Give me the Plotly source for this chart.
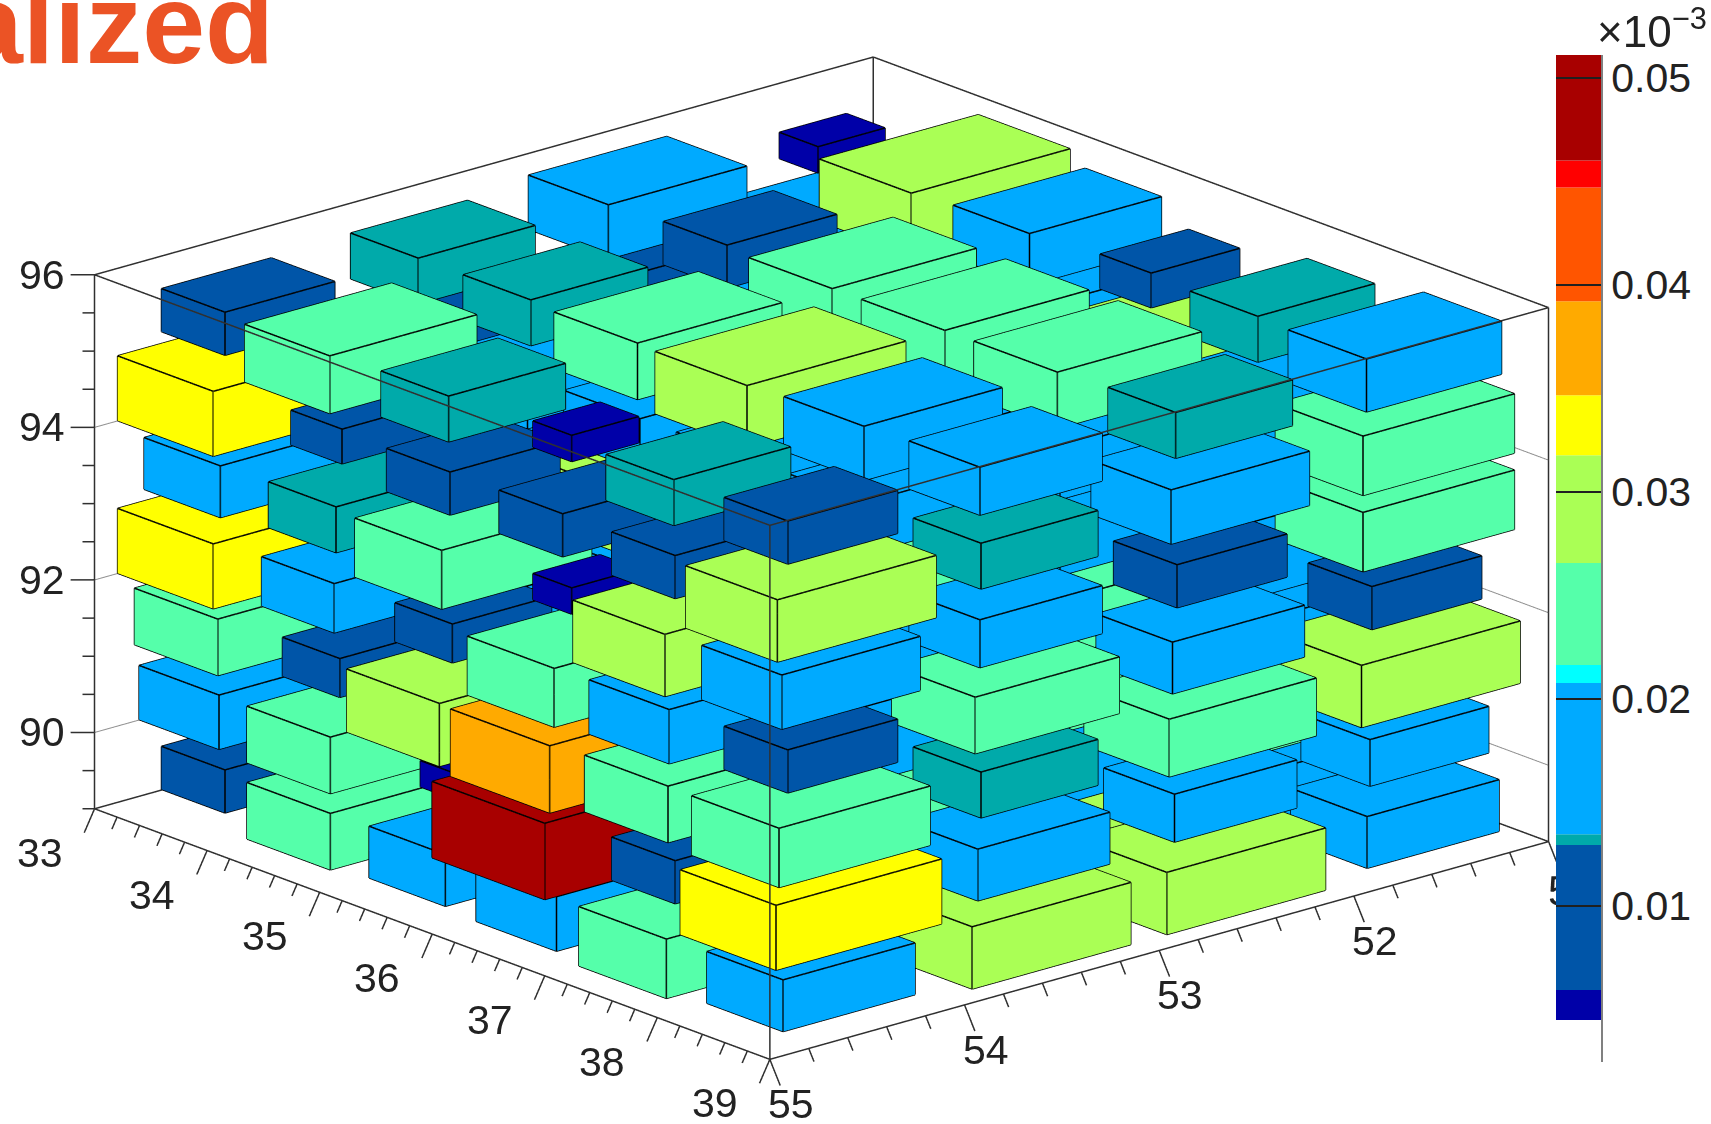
import numpy as np
import plotly.graph_objects as go

# ---------- data (bin contents in units of 1e-3, rows: x bin, columns: y = 54.5, 53.5, 52.5, 51.5) ----------
x_centers = [33.5, 34.5, 35.5, 36.5, 37.5, 38.5]
y_centers = [54.5, 53.5, 52.5, 51.5]
z_centers = [89.5, 90.5, 91.5, 92.5, 93.5, 94.5, 95.5]

z_89_5 = [[9, 17, 24, 18], [24, 18, 18, 24], [18, 24, 18, 18], [20.5, 18, 24, 18], [26.5, 18, 29, 18], [18, 29, 29, 18]]
z_90_5 = [[20, 24, 18, 18], [24, 18, 24, 18], [5, 18, 18, 24], [50, 18, 24, 18], [9, 24, 18, 24], [33, 18, 15, 14]]
z_91_5 = [[24, 18, 24, 18], [8, 18, 18, 24], [30, 18, 18, 24], [37, 24, 18, 18], [24, 18, 24, 18], [26.4, 13.2, 25, 29]]
z_92_5 = [[33, 18, 18, 24], [16, 24, 18, 18], [8, 18, 24, 18], [26, 18, 18, 24], [20, 18, 24, 18], [9, 24, 18, 9]]
z_93_5 = [[18, 18, 24, 18], [13.2, 18, 24, 29], [26, 29, 18, 24], [5, 29, 18, 18], [29, 24, 18, 18], [20, 15, 9, 26.5]]
z_94_5 = [[33, 9, 9, 18], [7, 18, 18, 24], [9, 18, 24, 18], [9, 18, 18, 29], [9, 18, 18, 18], [29, 13.2, 20, 26.5]]
z_95_5 = [[9, 13.2, 20, 5], [25, 13.2, 9, 29], [13.2, 24, 24, 18], [5, 29, 24, 7], [13.2, 20, 24, 13.2], [9, 15, 13.2, 19]]
layers = [z_89_5, z_90_5, z_91_5, z_92_5, z_93_5, z_94_5, z_95_5]

# palette bands of the colour scale (edges in value, colours per band)
band_edges = [0.00447, 0.00592, 0.01292, 0.01345, 0.02075, 0.02162, 0.02655, 0.03176, 0.03466, 0.0392, 0.0447, 0.0460, 0.0511]
band_colors = ["#0000A8", "#0055A8", "#00AAAA", "#00AAFF", "#00FFFF", "#55FFAA", "#AAFF55", "#FFFF00", "#FFAA00", "#FF5500", "#FF0000", "#A80000"]
# box edge length (fraction of a bin) as a function of the bin content
size_value = [5, 9, 13.2, 14, 16, 20, 24, 29, 33, 37, 50]
size_scale = [0.344, 0.564, 0.60, 0.61, 0.645, 0.71, 0.74, 0.815, 0.85, 0.88, 1.0]

x_range = [51, 55]
y_range = [33, 39]
z_range = [89, 96]
x_major = [51, 52, 53, 54, 55]
y_major = [33, 34, 35, 36, 37, 38, 39]
z_major = [90, 92, 94, 96]
cbar_ticks = [0.01, 0.02, 0.03, 0.04, 0.05]

# ---------- geometry ----------
W, H = 1711, 1124
TRI_I = [0, 0, 4, 4, 0, 0, 2, 2, 0, 0, 1, 1]
TRI_J = [1, 2, 5, 6, 1, 5, 3, 7, 2, 6, 3, 7]
TRI_K = [2, 3, 6, 7, 5, 4, 7, 6, 6, 4, 7, 5]
EDGES = [(0, 1), (1, 3), (3, 2), (2, 0), (4, 5), (5, 7), (7, 6), (6, 4), (0, 4), (1, 5), (2, 6), (3, 7)]

meshes = {i: ([], [], [], [], [], []) for i in range(len(band_colors))}
ex, ey, ez = [], [], []
for k, layer in enumerate(layers):
    for i, row in enumerate(layer):
        for j, val in enumerate(row):
            s = float(np.interp(val, size_value, size_scale)) / 2
            band = int(np.searchsorted(band_edges, val / 1000)) - 1
            band = min(max(band, 0), len(band_colors) - 1)
            cx, cy, cz = y_centers[j], x_centers[i], z_centers[k]
            vx = [cx - s, cx + s, cx - s, cx + s, cx - s, cx + s, cx - s, cx + s]
            vy = [cy - s, cy - s, cy + s, cy + s, cy - s, cy - s, cy + s, cy + s]
            vz = [cz - s, cz - s, cz - s, cz - s, cz + s, cz + s, cz + s, cz + s]
            mx, my, mz, mi, mj, mk = meshes[band]
            n = len(mx)
            mx += vx; my += vy; mz += vz
            mi += [n + t for t in TRI_I]; mj += [n + t for t in TRI_J]; mk += [n + t for t in TRI_K]
            for a, b in EDGES:
                ex += [vx[a], vx[b], None]; ey += [vy[a], vy[b], None]; ez += [vz[a], vz[b], None]

fig = go.Figure()
for b, (mx, my, mz, mi, mj, mk) in meshes.items():
    if mx:
        fig.add_trace(go.Mesh3d(x=mx, y=my, z=mz, i=mi, j=mj, k=mk, color=band_colors[b], flatshading=True,
                                lighting=dict(ambient=1, diffuse=0, specular=0, fresnel=0, roughness=1),
                                hoverinfo="skip", showscale=False))
fig.add_trace(go.Scatter3d(x=ex, y=ey, z=ez, mode="lines", line=dict(color="#000000", width=3), hoverinfo="skip", showlegend=False))

# frame
x0, x1 = x_range; y0, y1 = y_range; z0, z1 = z_range
fx, fy, fz = [], [], []
def seg(a, b, lx, ly, lz):
    lx += [a[0], b[0], None]; ly += [a[1], b[1], None]; lz += [a[2], b[2], None]
for zz in (z0, z1):
    seg((x0, y0, zz), (x1, y0, zz), fx, fy, fz); seg((x1, y0, zz), (x1, y1, zz), fx, fy, fz)
    seg((x1, y1, zz), (x0, y1, zz), fx, fy, fz); seg((x0, y1, zz), (x0, y0, zz), fx, fy, fz)
for xx, yy in ((x0, y0), (x1, y0), (x0, y1), (x1, y1)):
    seg((xx, yy, z0), (xx, yy, z1), fx, fy, fz)

# ticks: offsets in the plane z = const that land on a given screen direction
M = np.array([[-178.75, 103.3], [50.0, 38.33]])
def off(px, py):
    a, b = np.linalg.solve(M, [px, py])
    return a, b
ax_l = off(-9.5, 22)   # ticks on the 33..39 axis
ax_r = off(9.5, 24)    # ticks on the 55..51 axis
ax_z = off(-22, 0)     # ticks on the vertical axis
for t in np.arange(33, 39.01, 0.2):
    f = 1.0 if abs(t - round(t)) < 1e-6 else 0.5
    seg((x1, t, z0), (x1 + ax_l[0] * f, t + ax_l[1] * f, z0), fx, fy, fz)
for t in np.arange(51, 55.01, 0.2):
    f = 1.0 if abs(t - round(t)) < 1e-6 else 0.5
    seg((t, y1, z0), (t + ax_r[0] * f, y1 + ax_r[1] * f, z0), fx, fy, fz)
for t in np.arange(89, 96.01, 0.5):
    f = 1.0 if t in z_major else 0.5
    seg((x1, y0, t), (x1 + ax_z[0] * f, y0 + ax_z[1] * f, t), fx, fy, fz)
fig.add_trace(go.Scatter3d(x=fx, y=fy, z=fz, mode="lines", line=dict(color="#303030", width=3), hoverinfo="skip", showlegend=False))

# grid lines on the two back walls
gx, gy, gz = [], [], []
for t in z_major[:-1]:
    seg((x1, y0, t), (x0, y0, t), gx, gy, gz)
    seg((x0, y0, t), (x0, y1, t), gx, gy, gz)
fig.add_trace(go.Scatter3d(x=gx, y=gy, z=gz, mode="lines", line=dict(color="#909090", width=2), hoverinfo="skip", showlegend=False))

# the 51 label runs behind the palette, so it is drawn inside the 3D canvas
d51 = off(20, 45)
fig.add_trace(go.Scatter3d(x=[51 + d51[0]], y=[y1 + d51[1]], z=[z0], mode="text", text=["51"], textposition="middle center",
                           textfont=dict(family="Liberation Sans", size=41, color="#222222"),
                           hoverinfo="skip", showlegend=False))

# scene annotations for the axis labels
LBL = dict(family="Liberation Sans", size=41, color="#222222")
ann3d = []
for t in y_major:
    ann3d.append(dict(x=x1, y=t, z=z0, text=str(t), showarrow=False, font=LBL, xshift=-55, yshift=-44))
for t in x_major[1:]:
    ann3d.append(dict(x=t, y=y1, z=z0, text=str(t), showarrow=False, font=LBL, xshift=21, yshift=-45))
for t in z_major:
    ann3d.append(dict(x=x1, y=y0, z=t, text=str(t), showarrow=False, font=LBL, xshift=-53, yshift=0))

# colour scale
for b, col in enumerate(band_colors):
    fig.add_trace(go.Bar(x=[0], y=[band_edges[b + 1] - band_edges[b]], base=[band_edges[b]], width=[1],
                         marker=dict(color=col, line=dict(width=0)), hoverinfo="skip", showlegend=False,
                         xaxis="x", yaxis="y"))

pad = (1.5, 1.5, 1.5)
ZOOM = 1.9376
sx, sy, sz = ZOOM * 947 / 4, ZOOM * 946 / 6, ZOOM * 518 / 7
xr = [x0 - pad[0], x1 + pad[0]]; yr = [y0 - pad[1], y1 + pad[1]]; zr = [z0 - pad[2], z1 + pad[2]]
def noaxis(r):
    return dict(range=r, visible=False, showspikes=False)
R = 6.0
view = np.array([0.6206, 0.7149, 0.3221])
cam_r = np.array([-0.7551, 0.6556, 0.0])
cam_u = np.array([-0.2112, -0.2432, 0.9467])
K = 516.0
c = -(40.0 / K) * cam_r - (3.5 / K) * cam_u
eye = view * R + c
fig.update_layout(
    width=W, height=H, margin=dict(l=0, r=0, t=0, b=0), paper_bgcolor="white", plot_bgcolor="rgba(0,0,0,0)",
    showlegend=False, barmode="overlay",
    scene=dict(domain=dict(x=[0, 1556 / W], y=[0, 1]),
               xaxis=noaxis(xr), yaxis=noaxis(yr), zaxis=noaxis(zr),
               aspectmode="manual",
               aspectratio=dict(x=sx * (xr[1] - xr[0]) / 1000, y=sy * (yr[1] - yr[0]) / 1000, z=sz * (zr[1] - zr[0]) / 1000),
               camera=dict(eye=dict(x=eye[0], y=eye[1], z=eye[2]), center=dict(x=c[0], y=c[1], z=c[2]), up=dict(x=0, y=0, z=1),
                           projection=dict(type="orthographic")),
               annotations=ann3d, bgcolor="rgba(0,0,0,0)"),
    xaxis=dict(domain=[1556 / W, 1601 / W], range=[-0.5, 0.5], visible=False, fixedrange=True),
    yaxis=dict(domain=[1 - 1062 / H, 1 - 55 / H], range=[0.00244, 0.0511], side="right", tickmode="array",
               tickvals=cbar_ticks, ticktext=[f"{v:.2f}" for v in cbar_ticks], ticks="inside", ticklen=45, tickwidth=2,
               tickcolor="#202020", showgrid=False, zeroline=False, showline=True, linecolor="#808080", linewidth=2,
               tickfont=LBL, fixedrange=True),
    annotations=[
        dict(xref="paper", yref="paper", x=276 / W, y=1 - 89 / H, xanchor="right", yanchor="bottom", showarrow=False,
             text="<b>alized</b>", font=dict(family="Liberation Sans", size=113, color="#EB5325")),
        dict(xref="paper", yref="paper", x=1595 / W, y=1 - 58 / H, xanchor="left", yanchor="bottom", showarrow=False,
             text="×10<sup>−3</sup>", font=dict(family="Liberation Sans", size=44, color="#222222")),
    ],
)
fig.write_html("out.html", post_script="document.body.style.margin='0';", config=dict(displayModeBar=False))
